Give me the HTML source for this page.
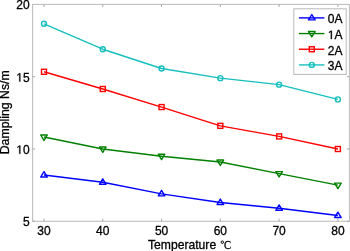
<!DOCTYPE html>
<html><head><meta charset="utf-8"><style>
html,body{margin:0;padding:0;background:#fff;}
body{width:350px;height:251px;overflow:hidden;}
svg{display:block;will-change:transform;}
.t{font-family:"Liberation Sans",sans-serif;font-size:12.0px;fill:#000;stroke:#000;stroke-width:0.3px;}
.s{font-family:"Liberation Serif",serif;}
</style></head><body>
<svg width="350" height="251" viewBox="0 0 350 251">
<defs><path id="one" d="M515,0 L515,1237 L197,1010 L197,1180 L530,1409 L696,1409 L696,0 Z"/></defs>
<rect x="32.6" y="4.4" width="316.79999999999995" height="216.9" fill="none" stroke="#bcbcbc" stroke-width="1.05"/>
<line x1="44.00" y1="221.3" x2="44.00" y2="218.70000000000002" stroke="#a8a8a8" stroke-width="1"/>
<line x1="44.00" y1="4.4" x2="44.00" y2="7.0" stroke="#a8a8a8" stroke-width="1"/>
<line x1="102.78" y1="221.3" x2="102.78" y2="218.70000000000002" stroke="#a8a8a8" stroke-width="1"/>
<line x1="102.78" y1="4.4" x2="102.78" y2="7.0" stroke="#a8a8a8" stroke-width="1"/>
<line x1="161.56" y1="221.3" x2="161.56" y2="218.70000000000002" stroke="#a8a8a8" stroke-width="1"/>
<line x1="161.56" y1="4.4" x2="161.56" y2="7.0" stroke="#a8a8a8" stroke-width="1"/>
<line x1="220.34" y1="221.3" x2="220.34" y2="218.70000000000002" stroke="#a8a8a8" stroke-width="1"/>
<line x1="220.34" y1="4.4" x2="220.34" y2="7.0" stroke="#a8a8a8" stroke-width="1"/>
<line x1="279.12" y1="221.3" x2="279.12" y2="218.70000000000002" stroke="#a8a8a8" stroke-width="1"/>
<line x1="279.12" y1="4.4" x2="279.12" y2="7.0" stroke="#a8a8a8" stroke-width="1"/>
<line x1="337.90" y1="221.3" x2="337.90" y2="218.70000000000002" stroke="#a8a8a8" stroke-width="1"/>
<line x1="337.90" y1="4.4" x2="337.90" y2="7.0" stroke="#a8a8a8" stroke-width="1"/>
<line x1="32.6" y1="221.30" x2="35.2" y2="221.30" stroke="#a8a8a8" stroke-width="1"/>
<line x1="349.4" y1="221.30" x2="346.79999999999995" y2="221.30" stroke="#a8a8a8" stroke-width="1"/>
<line x1="32.6" y1="149.00" x2="35.2" y2="149.00" stroke="#a8a8a8" stroke-width="1"/>
<line x1="349.4" y1="149.00" x2="346.79999999999995" y2="149.00" stroke="#a8a8a8" stroke-width="1"/>
<line x1="32.6" y1="76.70" x2="35.2" y2="76.70" stroke="#a8a8a8" stroke-width="1"/>
<line x1="349.4" y1="76.70" x2="346.79999999999995" y2="76.70" stroke="#a8a8a8" stroke-width="1"/>
<polyline points="44.00,175.03 102.78,182.26 161.56,193.83 220.34,202.50 279.12,208.29 337.90,215.52" fill="none" stroke="#0000ff" stroke-width="1.4" stroke-linejoin="round"/>
<path d="M44.00,171.63 L47.30,177.03 L40.70,177.03 Z" fill="none" stroke="#0000ff" stroke-width="1.4" stroke-linejoin="round"/>
<path d="M102.78,178.86 L106.08,184.26 L99.48,184.26 Z" fill="none" stroke="#0000ff" stroke-width="1.4" stroke-linejoin="round"/>
<path d="M161.56,190.43 L164.86,195.83 L158.26,195.83 Z" fill="none" stroke="#0000ff" stroke-width="1.4" stroke-linejoin="round"/>
<path d="M220.34,199.10 L223.64,204.50 L217.04,204.50 Z" fill="none" stroke="#0000ff" stroke-width="1.4" stroke-linejoin="round"/>
<path d="M279.12,204.89 L282.42,210.29 L275.82,210.29 Z" fill="none" stroke="#0000ff" stroke-width="1.4" stroke-linejoin="round"/>
<path d="M337.90,212.12 L341.20,217.52 L334.60,217.52 Z" fill="none" stroke="#0000ff" stroke-width="1.4" stroke-linejoin="round"/>
<polyline points="44.00,137.00 102.78,149.00 161.56,156.23 220.34,162.01 279.12,173.58 337.90,185.15" fill="none" stroke="#008000" stroke-width="1.4" stroke-linejoin="round"/>
<path d="M44.00,140.40 L47.30,135.00 L40.70,135.00 Z" fill="none" stroke="#008000" stroke-width="1.4" stroke-linejoin="round"/>
<path d="M102.78,152.40 L106.08,147.00 L99.48,147.00 Z" fill="none" stroke="#008000" stroke-width="1.4" stroke-linejoin="round"/>
<path d="M161.56,159.63 L164.86,154.23 L158.26,154.23 Z" fill="none" stroke="#008000" stroke-width="1.4" stroke-linejoin="round"/>
<path d="M220.34,165.41 L223.64,160.01 L217.04,160.01 Z" fill="none" stroke="#008000" stroke-width="1.4" stroke-linejoin="round"/>
<path d="M279.12,176.98 L282.42,171.58 L275.82,171.58 Z" fill="none" stroke="#008000" stroke-width="1.4" stroke-linejoin="round"/>
<path d="M337.90,188.55 L341.20,183.15 L334.60,183.15 Z" fill="none" stroke="#008000" stroke-width="1.4" stroke-linejoin="round"/>
<polyline points="44.00,71.78 102.78,88.99 161.56,107.07 220.34,125.86 279.12,136.42 337.90,149.00" fill="none" stroke="#ff0000" stroke-width="1.4" stroke-linejoin="round"/>
<rect x="41.50" y="69.28" width="5.00" height="5.00" fill="none" stroke="#ff0000" stroke-width="1.4"/>
<rect x="100.28" y="86.49" width="5.00" height="5.00" fill="none" stroke="#ff0000" stroke-width="1.4"/>
<rect x="159.06" y="104.57" width="5.00" height="5.00" fill="none" stroke="#ff0000" stroke-width="1.4"/>
<rect x="217.84" y="123.36" width="5.00" height="5.00" fill="none" stroke="#ff0000" stroke-width="1.4"/>
<rect x="276.62" y="133.92" width="5.00" height="5.00" fill="none" stroke="#ff0000" stroke-width="1.4"/>
<rect x="335.40" y="146.50" width="5.00" height="5.00" fill="none" stroke="#ff0000" stroke-width="1.4"/>
<polyline points="44.00,23.78 102.78,49.23 161.56,68.46 220.34,78.15 279.12,84.65 337.90,99.40" fill="none" stroke="#17bfbf" stroke-width="1.4" stroke-linejoin="round"/>
<circle cx="44.00" cy="23.78" r="2.5" fill="none" stroke="#17bfbf" stroke-width="1.4"/>
<circle cx="102.78" cy="49.23" r="2.5" fill="none" stroke="#17bfbf" stroke-width="1.4"/>
<circle cx="161.56" cy="68.46" r="2.5" fill="none" stroke="#17bfbf" stroke-width="1.4"/>
<circle cx="220.34" cy="78.15" r="2.5" fill="none" stroke="#17bfbf" stroke-width="1.4"/>
<circle cx="279.12" cy="84.65" r="2.5" fill="none" stroke="#17bfbf" stroke-width="1.4"/>
<circle cx="337.90" cy="99.40" r="2.5" fill="none" stroke="#17bfbf" stroke-width="1.4"/>
<text x="37.33" y="235.00" class="t" style="font-size:12.0px">3</text>
<text x="44.00" y="235.00" class="t" style="font-size:12.0px">0</text>
<text x="96.11" y="235.00" class="t" style="font-size:12.0px">4</text>
<text x="102.78" y="235.00" class="t" style="font-size:12.0px">0</text>
<text x="154.89" y="235.00" class="t" style="font-size:12.0px">5</text>
<text x="161.56" y="235.00" class="t" style="font-size:12.0px">0</text>
<text x="213.67" y="235.00" class="t" style="font-size:12.0px">6</text>
<text x="220.34" y="235.00" class="t" style="font-size:12.0px">0</text>
<text x="272.45" y="235.00" class="t" style="font-size:12.0px">7</text>
<text x="279.12" y="235.00" class="t" style="font-size:12.0px">0</text>
<text x="331.23" y="235.00" class="t" style="font-size:12.0px">8</text>
<text x="337.90" y="235.00" class="t" style="font-size:12.0px">0</text>
<text x="22.93" y="226.15" class="t" style="font-size:12.0px">5</text>
<use href="#one" transform="translate(16.25,153.85) scale(0.005859,-0.005859)" fill="#000" stroke="#000" stroke-width="51.2"/>
<text x="22.93" y="153.85" class="t" style="font-size:12.0px">0</text>
<use href="#one" transform="translate(16.25,81.55) scale(0.005859,-0.005859)" fill="#000" stroke="#000" stroke-width="51.2"/>
<text x="22.93" y="81.55" class="t" style="font-size:12.0px">5</text>
<text x="16.25" y="9.25" class="t" style="font-size:12.0px">2</text>
<text x="22.93" y="9.25" class="t" style="font-size:12.0px">0</text>
<text x="148.0" y="248.7" class="t" style="font-size:12.15px">Temperature</text>
<circle cx="222.3" cy="242.2" r="1.25" fill="none" stroke="#000" stroke-width="1.0"/>
<text transform="translate(224.1,248.8) scale(0.84,1)" class="t s" style="font-size:12.6px">C</text>
<text transform="translate(8.7,112.3) rotate(-90)" text-anchor="middle" class="t" style="font-size:12.3px">Dampling Ns/m</text>
<rect x="293.8" y="8.8" width="52.40" height="65.60" fill="#fff" stroke="#bcbcbc" stroke-width="1.05"/>
<line x1="298.9" y1="17.90" x2="324.4" y2="17.90" stroke="#0000ff" stroke-width="1.4"/>
<path d="M311.80,14.50 L315.10,19.90 L308.50,19.90 Z" fill="none" stroke="#0000ff" stroke-width="1.4" stroke-linejoin="round"/>
<text x="327.80" y="23.35" class="t" style="font-size:12.0px">0</text>
<text x="334.47" y="23.35" class="t" style="font-size:12.0px">A</text>
<line x1="298.9" y1="33.57" x2="324.4" y2="33.57" stroke="#008000" stroke-width="1.4"/>
<path d="M311.80,36.97 L315.10,31.57 L308.50,31.57 Z" fill="none" stroke="#008000" stroke-width="1.4" stroke-linejoin="round"/>
<use href="#one" transform="translate(327.80,39.02) scale(0.005859,-0.005859)" fill="#000" stroke="#000" stroke-width="51.2"/>
<text x="334.47" y="39.02" class="t" style="font-size:12.0px">A</text>
<line x1="298.9" y1="49.24" x2="324.4" y2="49.24" stroke="#ff0000" stroke-width="1.4"/>
<rect x="309.30" y="46.74" width="5.00" height="5.00" fill="none" stroke="#ff0000" stroke-width="1.4"/>
<text x="327.80" y="54.69" class="t" style="font-size:12.0px">2</text>
<text x="334.47" y="54.69" class="t" style="font-size:12.0px">A</text>
<line x1="298.9" y1="64.91" x2="324.4" y2="64.91" stroke="#17bfbf" stroke-width="1.4"/>
<circle cx="311.80" cy="64.91" r="2.5" fill="none" stroke="#17bfbf" stroke-width="1.4"/>
<text x="327.80" y="70.36" class="t" style="font-size:12.0px">3</text>
<text x="334.47" y="70.36" class="t" style="font-size:12.0px">A</text>
</svg>
</body></html>
